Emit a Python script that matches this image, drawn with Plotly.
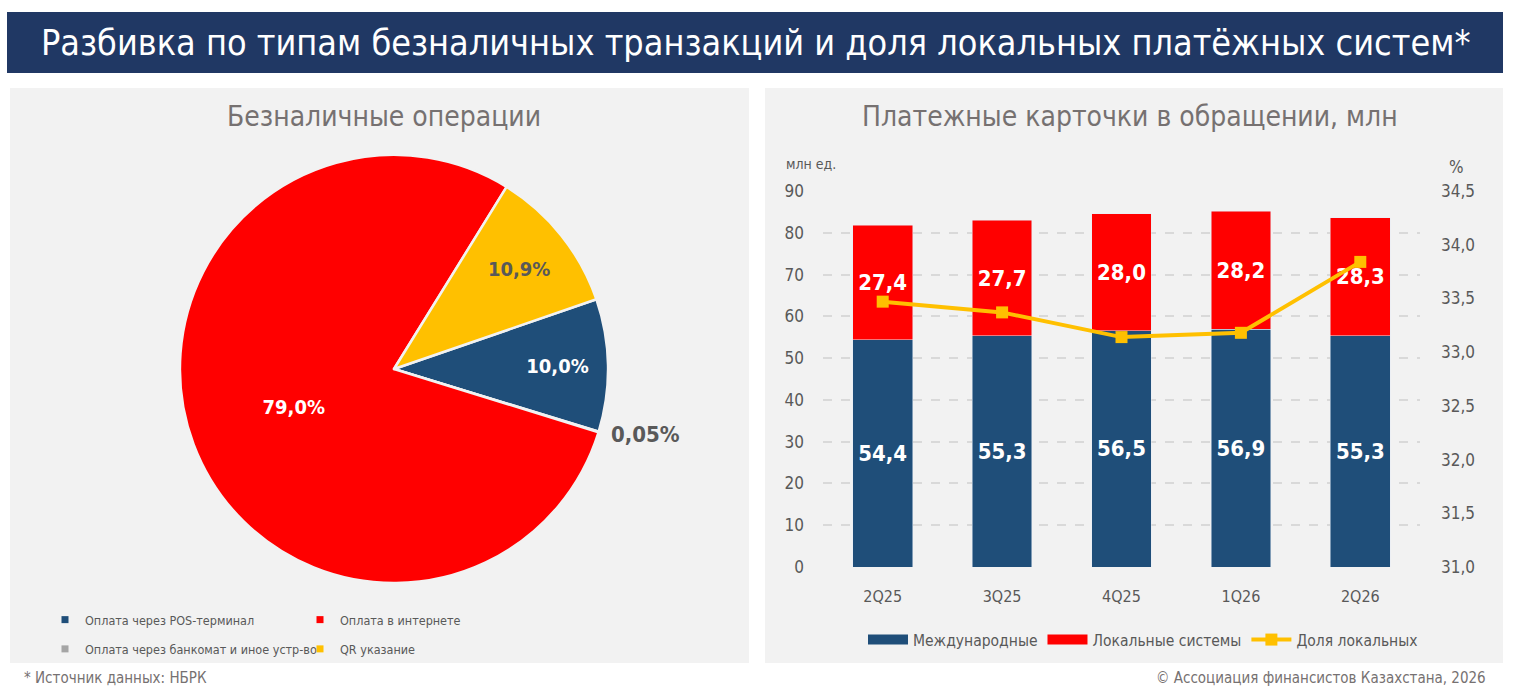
import plotly.graph_objects as go

# pie: structure of cashless operations, %
pie_labels = ["Оплата через POS-терминал", "Оплата через банкомат и иное устр-во",
              "Оплата в интернете", "QR указание"]
pie_values = [10.0, 0.05, 79.0, 10.9]
pie_colors = ["#1F4E79", "#A5A5A5", "#FF0000", "#FFC000"]

# bars: payment cards in circulation, mln
quarters = ["2Q25", "3Q25", "4Q25", "1Q26", "2Q26"]
intl_cards = [54.4, 55.3, 56.5, 56.9, 55.3]
local_cards = [27.4, 27.7, 28.0, 28.2, 28.3]
local_share = [33.47, 33.37, 33.14, 33.18, 33.84]

FONT = "DejaVu Sans Condensed, Liberation Sans Narrow, Roboto, sans-serif"
GRAY = "#595959"
W, H = 1514, 693


def px(x):
    return x / W


def py(y):
    return 1 - y / H


fig = go.Figure()

fig.add_trace(go.Pie(
    labels=pie_labels, values=pie_values, sort=False, direction="clockwise",
    rotation=71, marker=dict(colors=pie_colors, line=dict(color="#F2F2F2", width=2.5)),
    texttemplate=["%{value:.1f}%", "%{value:.2f}%", "%{value:.1f}%", "%{value:.1f}%"],
    textposition=["inside", "outside", "inside", "inside"],
    insidetextorientation="horizontal",
    textfont=dict(family=FONT, size=[20, 22, 20, 20], weight="bold",
                  color=["white", GRAY, "white", GRAY]),
    pull=[0, 0.03, 0, 0], showlegend=False, hoverinfo="label+percent",
    domain=dict(x=[px(173.5), px(614.5)], y=[py(589.5), py(148.5)]),
))

# legend entries for the pie (two columns)
for i, (lab, col) in enumerate(zip(pie_labels, pie_colors)):
    fig.add_trace(go.Scatter(
        x=[None], y=[None], mode="markers", name=lab, xaxis="x2", yaxis="y3",
        marker=dict(symbol="square", size=7, color=col),
        legend="legend2" if i in (0, 1) else "legend3", legendgroup=f"g{i}",
    ))

bar_text = dict(texttemplate="%{y:.1f}", textposition="inside", insidetextanchor="middle",
                textfont=dict(family=FONT, size=22, color="white", weight="bold"),
                showlegend=False)
fig.add_trace(go.Bar(x=quarters, y=intl_cards, name="Международные",
                     marker_color="#1F4E79", **bar_text))
fig.add_trace(go.Bar(x=quarters, y=local_cards, name="Локальные системы",
                     marker_color="#FF0000", **bar_text))
# wide rectangle legend keys for the bars
for name, col in [("Международные", "#1F4E79"), ("Локальные системы", "#FF0000")]:
    fig.add_trace(go.Scatter(x=[None], y=[None], mode="lines", name=name,
                             xaxis="x2", yaxis="y3", line=dict(color=col, width=12)))
fig.add_trace(go.Scatter(
    x=quarters, y=local_share, name="Доля локальных", yaxis="y2",
    mode="lines+markers", line=dict(color="#FFC000", width=4),
    marker=dict(symbol="square", size=12, color="#FFC000"),
))

shapes = [
    dict(type="rect", xref="paper", yref="paper", x0=px(7), x1=px(1503), y0=py(73), y1=py(12),
         fillcolor="#203864", line_width=0, layer="below"),
    dict(type="rect", xref="paper", yref="paper", x0=px(10), x1=px(749), y0=py(663), y1=py(88),
         fillcolor="#F2F2F2", line_width=0, layer="below"),
    dict(type="rect", xref="paper", yref="paper", x0=px(765), x1=px(1503), y0=py(663), y1=py(88),
         fillcolor="#F2F2F2", line_width=0, layer="below"),
]

annotations = [
    dict(text="Разбивка по типам безналичных транзакций и доля локальных платёжных систем*",
         x=px(755), y=py(43), font=dict(family=FONT, size=35.7, color="white")),
    dict(text="Безналичные операции", x=px(384), y=py(116),
         font=dict(family=FONT, size=28, color="#767171")),
    dict(text="Платежные карточки в обращении, млн", x=px(1130), y=py(116),
         font=dict(family=FONT, size=28, color="#767171")),
    dict(text="млн ед.", x=px(811), y=py(164),
         font=dict(family=FONT, size=14, color=GRAY)),
    dict(text="%", x=px(1456), y=py(167),
         font=dict(family=FONT, size=17, color=GRAY)),
    dict(text="* Источник данных: НБРК", x=px(22), y=py(678), xanchor="left",
         font=dict(family=FONT, size=15, color="#767171")),
    dict(text="© Ассоциация финансистов Казахстана, 2026", x=px(1488), y=py(678),
         xanchor="right", font=dict(family=FONT, size=15, color="#767171")),
]
for a in annotations:
    a.setdefault("xanchor", "center")
    a.update(xref="paper", yref="paper", showarrow=False, yanchor="middle")

legend_font = dict(family=FONT, size=12.5, color=GRAY)
fig.update_layout(
    width=W, height=H, margin=dict(l=0, r=0, t=0, b=0, autoexpand=False),
    paper_bgcolor="white", plot_bgcolor="rgba(0,0,0,0)",
    separators=", ", barmode="stack", bargap=0.5,
    font=dict(family=FONT, color=GRAY),
    shapes=shapes, annotations=annotations,
    xaxis=dict(domain=[px(823), px(1420)], type="category", showline=False, ticks="",
               tickfont=dict(size=16, color=GRAY), fixedrange=True, automargin=False,
               ticklabelstandoff=18),
    yaxis=dict(domain=[py(567), py(191)], range=[0, 90], dtick=10,
               gridcolor="#D9D9D9", griddash="dash", gridwidth=1.5, zeroline=False,
               tickfont=dict(size=17, color=GRAY), ticklabelstandoff=18, automargin=False),
    yaxis2=dict(overlaying="y", side="right", range=[31, 34.5], dtick=0.5, tickformat=".1f",
                showgrid=False, zeroline=False, tickfont=dict(size=17, color=GRAY),
                ticklabelstandoff=20, automargin=False),
    xaxis2=dict(domain=[0, 0.01], visible=False, anchor="y3"),
    yaxis3=dict(domain=[0, 0.01], visible=False, anchor="x2"),
    legend=dict(orientation="h", x=px(1143), xanchor="center", y=py(640), yanchor="middle",
                font=dict(family=FONT, size=15.5, color=GRAY), bgcolor="rgba(0,0,0,0)",
                traceorder="normal", itemwidth=40),
    legend2=dict(x=px(45), xanchor="left", y=py(605), yanchor="top", font=legend_font,
                 tracegroupgap=10, bgcolor="rgba(0,0,0,0)", itemwidth=30),
    legend3=dict(x=px(300), xanchor="left", y=py(605), yanchor="top", font=legend_font,
                 tracegroupgap=10, bgcolor="rgba(0,0,0,0)", itemwidth=30),
)

fig.write_html("out.html", config={"displayModeBar": False},
               post_script="document.body.style.margin='0px';")
